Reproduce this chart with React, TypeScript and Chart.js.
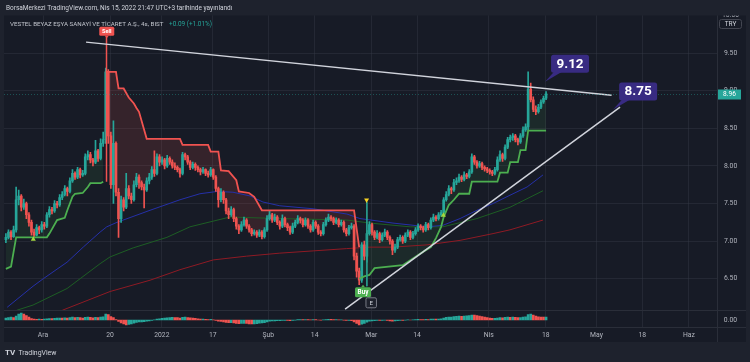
import { useEffect, useRef } from 'react';
import { Chart, registerables } from 'chart.js';

Chart.register(...registerables);

// ---------------- data (bar index j = one 4h bar) ----------------
// [open, high, low, close]
const OHLC: number[][] = [
  [7.02,7.10,6.98,7.05],[7.05,7.15,7.03,7.12],[7.12,7.14,7.02,7.06],[7.06,7.20,7.05,7.15],[7.15,7.72,7.12,7.55],
  [7.55,7.68,7.48,7.60],[7.60,7.62,7.40,7.45],[7.45,7.56,7.42,7.50],[7.50,7.52,7.30,7.35],[7.35,7.38,7.20,7.25],
  [7.25,7.28,7.08,7.12],[7.12,7.16,7.06,7.08],[7.08,7.22,7.07,7.18],[7.18,7.20,7.10,7.15],[7.15,7.26,7.12,7.22],
  [7.22,7.25,7.16,7.20],[7.20,7.38,7.18,7.35],[7.35,7.46,7.32,7.42],[7.42,7.45,7.36,7.40],[7.40,7.54,7.38,7.50],
  [7.50,7.53,7.44,7.48],[7.48,7.62,7.46,7.58],[7.58,7.66,7.55,7.62],[7.62,7.74,7.60,7.70],[7.70,7.72,7.60,7.66],
  [7.66,7.84,7.64,7.80],[7.80,7.95,7.78,7.90],[7.90,7.92,7.82,7.85],[7.85,7.98,7.83,7.95],[7.95,7.97,7.84,7.88],
  [7.88,7.94,7.86,7.90],[7.90,8.16,7.88,8.12],[8.12,8.20,8.08,8.15],[8.15,8.18,8.04,8.08],[8.08,8.10,8.00,8.05],
  [8.05,8.34,8.03,8.20],[8.20,8.22,8.06,8.10],[8.10,8.36,8.08,8.30],[8.30,8.45,8.26,8.35],[8.35,9.30,8.30,9.25],
  [9.25,9.28,8.30,8.40],[8.40,8.45,7.70,7.75],[7.75,8.60,7.50,8.30],[8.30,8.32,7.60,7.65],[7.65,7.70,7.05,7.30],
  [7.30,7.60,7.25,7.55],[7.55,7.58,7.40,7.45],[7.45,7.90,7.43,7.70],[7.70,7.74,7.56,7.60],[7.60,7.64,7.50,7.55],
  [7.55,7.80,7.53,7.75],[7.75,7.90,7.72,7.85],[7.85,7.88,7.70,7.78],[7.78,7.80,7.68,7.72],[7.72,7.76,7.44,7.68],
  [7.68,7.84,7.66,7.80],[7.80,7.90,7.76,7.85],[7.85,7.99,7.82,7.95],[7.95,8.20,7.86,7.90],[7.90,8.16,7.88,8.12],
  [8.12,8.15,8.00,8.05],[8.05,8.12,8.02,8.08],[8.08,8.10,7.96,8.00],[8.00,8.14,7.98,8.10],[8.10,8.12,8.02,8.05],
  [8.05,8.08,7.97,8.00],[8.00,8.04,7.95,7.98],[7.98,8.00,7.92,7.95],[7.95,7.97,7.85,7.90],[7.90,8.18,7.88,8.15],
  [8.15,8.17,8.08,8.12],[8.12,8.14,8.02,8.05],[8.05,8.07,7.95,7.98],[7.98,8.05,7.96,8.02],[8.02,8.04,7.94,7.98],
  [7.98,8.00,7.92,7.95],[7.95,7.97,7.88,7.92],[7.92,7.98,7.90,7.95],[7.95,7.96,7.87,7.90],[7.90,7.93,7.85,7.88],
  [7.88,7.98,7.86,7.95],[7.95,7.96,7.82,7.85],[7.85,7.87,7.66,7.70],[7.70,7.72,7.45,7.55],[7.55,7.70,7.52,7.65],
  [7.65,7.67,7.50,7.55],[7.55,7.57,7.36,7.40],[7.40,7.44,7.30,7.35],[7.35,7.46,7.33,7.42],[7.42,7.44,7.26,7.30],
  [7.30,7.32,7.16,7.20],[7.20,7.22,7.10,7.15],[7.15,7.26,7.13,7.22],[7.22,7.32,7.20,7.28],[7.28,7.30,7.17,7.20],
  [7.20,7.22,7.12,7.15],[7.15,7.17,7.07,7.10],[7.10,7.15,7.08,7.12],[7.12,7.14,7.05,7.08],[7.08,7.15,7.06,7.12],
  [7.12,7.14,7.03,7.06],[7.06,7.18,7.04,7.15],[7.15,7.34,7.13,7.30],[7.30,7.40,7.28,7.35],[7.35,7.37,7.25,7.28],
  [7.28,7.36,7.26,7.32],[7.32,7.34,7.22,7.25],[7.25,7.27,7.16,7.20],[7.20,7.35,7.18,7.30],[7.30,7.32,7.19,7.22],
  [7.22,7.24,7.14,7.18],[7.18,7.20,7.09,7.12],[7.12,7.24,7.10,7.20],[7.20,7.28,7.18,7.25],[7.25,7.34,7.23,7.30],
  [7.30,7.32,7.24,7.28],[7.28,7.30,7.19,7.22],[7.22,7.31,7.20,7.28],[7.28,7.30,7.17,7.20],[7.20,7.22,7.12,7.15],
  [7.15,7.28,7.13,7.25],[7.25,7.27,7.17,7.20],[7.20,7.22,7.09,7.12],[7.12,7.14,7.07,7.10],[7.10,7.25,7.08,7.22],
  [7.22,7.31,7.20,7.28],[7.28,7.36,7.26,7.32],[7.32,7.34,7.27,7.30],[7.30,7.32,7.22,7.25],[7.25,7.31,7.23,7.28],
  [7.28,7.30,7.19,7.22],[7.22,7.28,7.20,7.25],[7.25,7.27,7.12,7.15],[7.15,7.17,7.07,7.10],[7.10,7.21,7.08,7.18],
  [7.18,7.24,7.16,7.20],[7.20,7.22,6.75,6.80],[6.80,6.84,6.52,6.60],[6.60,6.64,6.42,6.48],[6.48,6.98,6.45,6.95],
  [6.95,7.00,6.75,6.80],[6.80,7.14,6.72,7.10],[7.10,7.26,7.08,7.22],[7.22,7.24,7.08,7.12],[7.12,7.14,7.02,7.05],
  [7.05,7.14,7.03,7.10],[7.10,7.12,6.98,7.02],[7.02,7.11,7.00,7.08],[7.08,7.16,7.06,7.12],[7.12,7.14,7.02,7.05],
  [7.05,7.07,6.96,7.00],[7.00,7.02,6.82,6.88],[6.88,6.96,6.85,6.92],[6.92,7.05,6.90,7.02],[7.02,7.08,7.00,7.05],
  [7.05,7.07,6.97,7.00],[7.00,7.11,6.98,7.08],[7.08,7.15,7.06,7.12],[7.12,7.14,7.02,7.05],[7.05,7.13,7.03,7.10],
  [7.10,7.18,7.08,7.15],[7.15,7.23,7.13,7.20],[7.20,7.22,7.15,7.18],[7.18,7.20,7.12,7.15],[7.15,7.25,7.13,7.22],
  [7.22,7.24,7.15,7.18],[7.18,7.31,7.16,7.28],[7.28,7.36,7.26,7.32],[7.32,7.34,7.27,7.30],[7.30,7.38,7.28,7.35],
  [7.35,7.41,7.33,7.38],[7.38,7.58,7.36,7.55],[7.55,7.66,7.53,7.62],[7.62,7.74,7.60,7.70],[7.70,7.72,7.63,7.68],
  [7.68,7.82,7.66,7.78],[7.78,7.84,7.75,7.80],[7.80,7.89,7.78,7.85],[7.85,7.87,7.79,7.82],[7.82,7.92,7.80,7.88],
  [7.88,7.90,7.83,7.86],[7.86,7.95,7.84,7.92],[7.92,8.16,7.90,8.12],[8.12,8.14,8.02,8.05],[8.05,8.07,7.97,8.00],
  [8.00,8.06,7.98,8.03],[8.03,8.05,7.95,7.98],[7.98,8.00,7.93,7.96],[7.96,7.98,7.91,7.94],[7.94,7.96,7.89,7.92],
  [7.92,7.94,7.87,7.90],[7.90,7.98,7.88,7.95],[7.95,8.12,7.93,8.08],[8.08,8.20,8.06,8.15],[8.15,8.17,8.06,8.10],
  [8.10,8.28,8.08,8.25],[8.25,8.38,8.23,8.35],[8.35,8.41,8.32,8.38],[8.38,8.43,8.34,8.40],[8.40,8.42,8.32,8.35],
  [8.35,8.37,8.28,8.32],[8.32,8.43,8.30,8.40],[8.40,8.52,8.38,8.48],[8.48,8.56,8.46,8.52],[8.52,9.25,8.48,9.02],
  [9.02,9.10,8.85,8.88],[8.88,8.92,8.72,8.75],[8.75,8.80,8.68,8.72],[8.72,8.82,8.70,8.78],[8.78,8.88,8.76,8.85],
  [8.85,8.93,8.83,8.90],[8.90,8.99,8.88,8.96],
];

const MACD_HIST: number[] = [
  0.020,0.025,0.030,0.025,0.040,0.060,0.070,0.060,0.045,0.030,
  0.015,0.008,0.006,0.008,0.007,0.010,0.012,0.015,0.013,0.016,
  0.018,0.020,0.018,0.022,0.020,0.024,0.028,0.025,0.027,0.023,
  0.020,0.026,0.030,0.026,0.022,0.026,0.024,0.028,0.032,0.060,
  0.055,0.035,0.025,0.005,-0.015,-0.030,-0.040,-0.050,-0.045,-0.040,
  -0.032,-0.025,-0.020,-0.018,-0.016,-0.012,-0.008,-0.004,0.002,0.008,
  0.012,0.016,0.018,0.022,0.024,0.026,0.025,0.024,0.020,0.026,
  0.028,0.025,0.022,0.020,0.016,0.012,0.010,0.010,0.007,0.005,
  0.006,0.002,-0.005,-0.012,-0.014,-0.018,-0.023,-0.026,-0.026,-0.030,
  -0.034,-0.036,-0.035,-0.033,-0.035,-0.038,-0.040,-0.038,-0.036,-0.032,
  -0.030,-0.026,-0.018,-0.012,-0.010,-0.008,-0.006,-0.006,-0.003,-0.003,
  -0.004,-0.006,-0.004,-0.001,0.003,0.004,0.003,0.005,0.004,0.002,
  0.004,0.003,0.000,-0.002,0.002,0.005,0.007,0.006,0.004,0.004,
  0.002,0.002,-0.002,-0.005,-0.004,-0.006,-0.020,-0.035,-0.050,-0.042,
  -0.035,-0.022,-0.012,-0.008,-0.006,-0.003,-0.004,-0.004,-0.002,-0.005,
  -0.008,-0.012,-0.010,-0.006,-0.004,-0.005,-0.002,0.001,0.000,0.002,
  0.004,0.006,0.005,0.004,0.006,0.005,0.008,0.010,0.009,0.010,
  0.012,0.020,0.026,0.030,0.030,0.034,0.036,0.038,0.037,0.040,
  0.042,0.044,0.050,0.048,0.044,0.040,0.034,0.028,0.023,0.019,
  0.016,0.016,0.020,0.024,0.022,0.026,0.028,0.027,0.029,0.026,
  0.023,0.025,0.029,0.032,0.055,0.058,0.048,0.038,0.032,0.030,
  0.029,0.030,
];

// Supertrend breakpoints [bar, price]
const ST_UP_1: number[][] = [[0,6.63],[2,6.66],[4,7.05],[16,7.05],[17,7.10],[20,7.28],[23,7.31],[24,7.41],[26,7.59],[27,7.63],[30,7.64],[32,7.72],[33,7.77],[37,7.77],[38,7.79]];
const ST_DOWN: number[][] = [[39,9.25],[43,9.25],[44,9.03],[46,9.03],[48,8.91],[50,8.83],[51,8.77],[52,8.72],[55,8.36],[68,8.36],[69,8.28],[79,8.28],[80,8.19],[83,8.19],[84,7.94],[87,7.93],[90,7.81],[91,7.66],[95,7.64],[97,7.59],[100,7.41],[136,7.41],[138,6.92]];
const ST_UP_2: number[][] = [[138,6.50],[140,6.53],[142,6.55],[144,6.64],[155,6.68],[159,6.77],[164,6.88],[166,6.92],[168,7.04],[170,7.19],[171,7.32],[173,7.48],[175,7.55],[177,7.63],[181,7.63],[182,7.79],[192,7.79],[193,7.91],[196,7.91],[197,8.05],[200,8.05],[201,8.21],[203,8.21],[204,8.47],[211,8.47]];

// Moving averages [bar, price]
const MA_BLUE: number[][] = [[0.5,6.12],[10.6,6.40],[14.6,6.50],[23.9,6.72],[30.2,6.92],[36.8,7.12],[39.4,7.19],[43.4,7.25],[56.3,7.41],[68,7.55],[75.8,7.63],[82.5,7.66],[88.7,7.65],[95.4,7.60],[100.4,7.52],[107,7.47],[120,7.43],[133.2,7.36],[138.3,7.30],[151.2,7.24],[164.5,7.19],[170.7,7.21],[177.4,7.30],[184,7.41],[190.3,7.50],[196.9,7.61],[203.6,7.72],[209.8,7.88]];
const MA_GREEN: number[][] = [[4.2,6.08],[10.6,6.15],[23.9,6.37],[36.8,6.70],[40.7,6.79],[49.7,6.91],[62.9,7.05],[71.9,7.19],[87.5,7.32],[107,7.30],[133.2,7.28],[142.2,7.24],[157.9,7.19],[170.7,7.19],[184,7.30],[196.9,7.45],[209.8,7.67]];
const MA_RED: number[][] = [[22,6.08],[40.7,6.33],[56.3,6.48],[68,6.62],[81,6.75],[94,6.80],[107,6.84],[120,6.87],[133,6.90],[142,6.92],[151,6.92],[164.5,6.95],[177.4,7.01],[190.3,7.10],[196.9,7.15],[209.8,7.28]];

// Drawn trend lines and signal lines
const TREND_UPPER: number[][] = [[31.3,9.646],[236.6,8.94]];
const TREND_LOWER: number[][] = [[132.5,6.096],[239.9,8.782]];
const SELL_LINE: number[][] = [[39.3,9.72],[39.3,7.79]];
const SIGNAL_LINE: number[][] = [[141,7.52],[141,6.40]];

// Annotations
const SELL_SIGNAL = [39.4, 9.79];
const BUY_SIGNAL = [139.5, 6.32];
const E_MARK = [142.7, 6.18];
const UP_TRIANGLES: number[][] = [[10.7,7.03],[170.9,7.35]];
const DOWN_TRIANGLE = [140.9, 7.54];
const CALLOUTS = [
  { j: 210.6, p: 9.12, text: '9.12' },
  { j: 237.2, p: 8.75, text: '8.75' },
];
const LAST_PRICE = 8.96;

// Axes
const PRICE_TICKS = [6.5, 7.0, 7.5, 8.0, 8.5, 9.0, 9.5];
const TIME_TICKS = [14.5, 40.7, 60.9, 80.8, 102.5, 120.6, 142.7, 160.6, 188.6, 210.9, 230.7, 248.6, 266.8];
const TIME_LABELS = ['Ara', '20', '2022', '17', 'Şub', '14', 'Mar', '14', 'Nis', '18', 'May', '18', 'Haz'];
const PANE_MIN = 6.082;

// ---------------- styles ----------------
const OUTER_BG = '#1e222d';
const PANE_BG = '#171b26';
const SEP = '#2a2e39';
const GRID = 'rgba(54,58,70,0.45)';
const AXIS_TEXT = '#b2b5be';
const UP = '#26a69a';
const DOWN = '#ef5350';
const ST_GREEN = '#4caf50';
const ST_RED = '#f05350';
const CALLOUT_BG = '#382b82';

function rr(ctx: CanvasRenderingContext2D, x: number, y: number, w: number, h: number, r: number) {
  ctx.beginPath();
  ctx.moveTo(x + r, y);
  ctx.arcTo(x + w, y, x + w, y + h, r);
  ctx.arcTo(x + w, y + h, x, y + h, r);
  ctx.arcTo(x, y + h, x, y, r);
  ctx.arcTo(x, y, x + w, y, r);
  ctx.closePath();
}

function fitText(ctx: CanvasRenderingContext2D, text: string, x: number, y: number, width: number, weight: string, color: string) {
  ctx.font = `${weight} 10px Roboto`;
  const w = ctx.measureText(text).width;
  const size = (10 * width) / w;
  ctx.font = `${weight} ${size}px Roboto`;
  ctx.fillStyle = color;
  ctx.textAlign = 'left';
  ctx.textBaseline = 'middle';
  ctx.fillText(text, x, y);
}

const bgPlugin = {
  id: 'bgPlugin',
  beforeDraw(chart: any) {
    const ctx = chart.ctx as CanvasRenderingContext2D;
    ctx.save();
    ctx.fillStyle = OUTER_BG;
    ctx.fillRect(0, 0, chart.width, chart.height);
    ctx.fillStyle = PANE_BG;
    ctx.fillRect(4, 15.5, 742, 326.5);
    ctx.restore();
  },
};

const overlayPlugin = {
  id: 'overlayPlugin',
  afterDraw(chart: any) {
    const ctx = chart.ctx as CanvasRenderingContext2D;
    const ca = chart.chartArea;
    const xs = chart.scales.x;
    const ys = chart.scales.y;
    const X = (v: number) => xs.getPixelForValue(v);
    const Y = (v: number) => ys.getPixelForValue(v);
    ctx.save();

    const hline = (x1: number, x2: number, y: number) => { ctx.beginPath(); ctx.moveTo(x1, y); ctx.lineTo(x2, y); ctx.stroke(); };
    const vline = (x: number, y1: number, y2: number) => { ctx.beginPath(); ctx.moveTo(x, y1); ctx.lineTo(x, y2); ctx.stroke(); };

    // pane separators
    ctx.strokeStyle = SEP;
    ctx.lineWidth = 1;
    hline(4, 746, Math.round(Y(PANE_MIN)) + 0.5);
    hline(4, 746, Math.round(ca.bottom) + 0.5);
    vline(Math.round(ca.right) + 0.5, 15.5, 342);

    // last price dotted line
    const ly = Math.round(Y(LAST_PRICE)) + 0.5;
    ctx.setLineDash([1, 2]);
    ctx.strokeStyle = 'rgba(38,166,154,0.4)';
    hline(ca.left, ca.right, ly);
    ctx.setLineDash([]);

    // header + legend
    fitText(ctx, 'BorsaMerkezi TradingView.com, Nis 15, 2022 21:47 UTC+3 tarihinde yayınlandı', 6, 8, 227, '400', '#d1d4dc');
    fitText(ctx, 'VESTEL BEYAZ EŞYA SANAYİ VE TİCARET A.Ş., 4s, BIST', 10, 24, 154, '400', '#c3c6ce');
    fitText(ctx, '+0.09 (+1.01%)', 169, 24, 43, '400', UP);

    // price axis extras
    ctx.save();
    ctx.beginPath();
    ctx.rect(ca.right + 1, 15.5, 30, 20);
    ctx.clip();
    ctx.fillStyle = AXIS_TEXT;
    ctx.font = '6.8px Roboto';
    ctx.textAlign = 'center';
    ctx.textBaseline = 'middle';
    ctx.fillText('10.00', 730.5, Y(10.0) - 0.5);
    ctx.restore();

    ctx.fillStyle = PANE_BG;
    rr(ctx, 719.5, 19.5, 22, 9, 2);
    ctx.fill();
    ctx.strokeStyle = '#434651';
    ctx.stroke();
    ctx.fillStyle = '#d1d4dc';
    ctx.font = '6.5px Roboto';
    ctx.textAlign = 'center';
    ctx.textBaseline = 'middle';
    ctx.fillText('TRY', 730.5, 24.3);

    // last price tag
    ctx.fillStyle = UP;
    ctx.fillRect(718, ly - 5, 23, 10);
    ctx.fillStyle = '#ffffff';
    ctx.font = '6.6px Roboto';
    ctx.fillText(LAST_PRICE.toFixed(2), 729.5, ly + 0.3);

    // MACD zero label
    ctx.fillStyle = AXIS_TEXT;
    ctx.font = '6.8px Roboto';
    const ym = chart.scales.yM;
    ctx.fillText('0.00', 730.5, ym.getPixelForValue(0));

    // triangles
    ctx.fillStyle = '#a5d63f';
    for (const [j, p] of UP_TRIANGLES) {
      const x = X(j), y = Y(p);
      ctx.beginPath(); ctx.moveTo(x, y - 2.5); ctx.lineTo(x + 2.5, y + 2); ctx.lineTo(x - 2.5, y + 2); ctx.closePath(); ctx.fill();
    }
    ctx.fillStyle = '#f9d423';
    {
      const x = X(DOWN_TRIANGLE[0]), y = Y(DOWN_TRIANGLE[1]);
      ctx.beginPath(); ctx.moveTo(x - 2.5, y - 2); ctx.lineTo(x + 2.5, y - 2); ctx.lineTo(x, y + 2.5); ctx.closePath(); ctx.fill();
    }

    // Sell label
    {
      const x = X(SELL_SIGNAL[0]), y = Y(SELL_SIGNAL[1]);
      ctx.fillStyle = ST_RED;
      rr(ctx, x - 7.5, y - 4.5, 15, 9, 1.5); ctx.fill();
      ctx.beginPath(); ctx.moveTo(x - 2, y + 4.4); ctx.lineTo(x + 2, y + 4.4); ctx.lineTo(x, y + 7); ctx.closePath(); ctx.fill();
      ctx.fillStyle = '#ffffff';
      ctx.font = 'bold 5.6px Roboto';
      ctx.textAlign = 'center'; ctx.textBaseline = 'middle';
      ctx.fillText('Sell', x, y + 0.4);
    }
    // Buy label
    {
      const x = X(BUY_SIGNAL[0]), y = Y(BUY_SIGNAL[1]);
      ctx.fillStyle = ST_GREEN;
      rr(ctx, x - 8, y - 5, 16, 10, 1.5); ctx.fill();
      ctx.beginPath(); ctx.moveTo(x - 2, y - 4.9); ctx.lineTo(x + 2, y - 4.9); ctx.lineTo(x, y - 7.5); ctx.closePath(); ctx.fill();
      ctx.fillStyle = '#ffffff';
      ctx.font = 'bold 6.4px Roboto';
      ctx.textAlign = 'center'; ctx.textBaseline = 'middle';
      ctx.fillText('Buy', x, y + 0.5);
    }
    // E mark
    {
      const x = X(E_MARK[0]), y = Y(E_MARK[1]);
      ctx.fillStyle = '#1e222d';
      rr(ctx, x - 5.25, y - 5, 10.5, 10, 1.5); ctx.fill();
      ctx.strokeStyle = '#787b86'; ctx.lineWidth = 1; ctx.stroke();
      ctx.fillStyle = '#d1d4dc';
      ctx.font = '6.2px Roboto';
      ctx.textAlign = 'center'; ctx.textBaseline = 'middle';
      ctx.fillText('E', x, y + 0.4);
    }

    // callouts
    for (const c of CALLOUTS) {
      const ax = X(c.j), ay = Y(c.p);
      const bw = 38, bh = 18;
      const bx = ax + 6, by = ay - 9 - bh;
      ctx.fillStyle = CALLOUT_BG;
      ctx.beginPath();
      ctx.moveTo(ax, ay);
      ctx.lineTo(bx + 3, by + bh - 1);
      ctx.lineTo(bx + 11, by + bh - 1);
      ctx.closePath();
      ctx.fill();
      rr(ctx, bx, by, bw, bh, 2.5);
      ctx.fill();
      ctx.fillStyle = '#ffffff';
      ctx.font = 'bold 13.5px Roboto';
      ctx.textAlign = 'center'; ctx.textBaseline = 'middle';
      ctx.fillText(c.text, bx + bw / 2, by + bh / 2 + 0.5);
    }

    // TradingView logo
    ctx.fillStyle = '#d1d4dc';
    ctx.font = 'bold 8px Roboto';
    ctx.textAlign = 'left'; ctx.textBaseline = 'middle';
    ctx.fillText('TV', 5, 353);
    fitText(ctx, 'TradingView', 18.5, 353, 38, '400', '#d1d4dc');

    ctx.restore();
  },
};

export default function App() {
  const ref = useRef<HTMLCanvasElement>(null);

  useEffect(() => {
    document.body.style.margin = '0';
    const pts = (arr: number[][]) => arr.map(([x, y]) => ({ x, y }));
    const mid = OHLC.map((c, j) => ({ x: j, y: (c[0] + c[3]) / 2 }));
    const candleColors = OHLC.map((c) => (c[3] >= c[0] ? UP : DOWN));
    const macdColors = MACD_HIST.map((v, i) => (i === 0 || v >= MACD_HIST[i - 1] ? UP : DOWN));

    const midStyle = { type: 'line', borderColor: 'rgba(0,0,0,0)', borderWidth: 0, pointRadius: 0, fill: false, yAxisID: 'y', order: 20 };
    const lineStyle = (color: string, width: number, order: number) => ({
      type: 'line', borderColor: color, borderWidth: width, pointRadius: 0, fill: false, tension: 0, yAxisID: 'y', order,
    });

    const datasets: any[] = [
      { ...midStyle, data: mid.slice(0, 39) },            // 0
      { ...midStyle, data: mid.slice(39, 139) },          // 1
      { ...midStyle, data: mid.slice(138) },              // 2
      { ...lineStyle(ST_GREEN, 1.8, 2), data: pts(ST_UP_1), fill: { target: 0 }, backgroundColor: 'rgba(76,175,80,0.10)' },
      { ...lineStyle(ST_RED, 1.8, 2), data: pts(ST_DOWN), fill: { target: 1 }, backgroundColor: 'rgba(240,83,80,0.14)' },
      { ...lineStyle(ST_GREEN, 1.8, 2), data: pts(ST_UP_2), fill: { target: 2 }, backgroundColor: 'rgba(76,175,80,0.10)' },
      { ...lineStyle('#2530a8', 1, 7), data: pts(MA_BLUE) },
      { ...lineStyle('#1d5e24', 1, 7), data: pts(MA_GREEN) },
      { ...lineStyle('#8e1a24', 1, 7), data: pts(MA_RED) },
      { ...lineStyle(ST_RED, 1.5, 1), data: pts(SELL_LINE) },
      { ...lineStyle('#2a9d8f', 1, 1), data: pts(SIGNAL_LINE) },
      { ...lineStyle('#d1d4dc', 1.5, 0), data: pts(TREND_UPPER) },
      { ...lineStyle('#d1d4dc', 1.5, 0), data: pts(TREND_LOWER) },
      {
        type: 'bar', data: OHLC.map((c, j) => ({ x: j, y: [c[2], c[1]] })), backgroundColor: candleColors,
        barThickness: 1, grouped: false, borderWidth: 0, yAxisID: 'y', order: 5,
      },
      {
        type: 'bar', data: OHLC.map((c, j) => ({ x: j, y: [c[0], c[3]] })), backgroundColor: candleColors,
        barThickness: 2, minBarLength: 1, grouped: false, borderWidth: 0, yAxisID: 'y', order: 4,
      },
      {
        type: 'bar', data: MACD_HIST.map((v, j) => ({ x: j, y: v })), backgroundColor: macdColors,
        barThickness: 2, grouped: false, borderWidth: 0, yAxisID: 'yM', order: 9,
      },
    ];

    const chart = new Chart(ref.current as HTMLCanvasElement, {
      type: 'bar',
      data: { datasets },
      options: {
        animation: false,
        responsive: false,
        maintainAspectRatio: false,
        events: [],
        layout: { padding: { left: 4, right: 3, top: 15.5, bottom: 20 } },
        plugins: {
          legend: { display: false },
          tooltip: { enabled: false },
          filler: { drawTime: 'beforeDatasetsDraw' },
        },
        scales: {
          x: {
            type: 'linear',
            min: -0.742,
            max: 277.77,
            offset: false,
            afterBuildTicks: (s: any) => { s.ticks = TIME_TICKS.map((v) => ({ value: v })); },
            afterFit: (s: any) => { s.height = 15; },
            ticks: {
              autoSkip: false,
              maxRotation: 0,
              padding: 4,
              color: AXIS_TEXT,
              font: { family: 'Roboto', size: 6.8 },
              callback: (_v: any, i: number) => TIME_LABELS[i],
            },
            grid: { color: GRID, drawTicks: false, offset: false },
            border: { display: false },
          },
          y: {
            type: 'linear',
            position: 'right',
            min: 5.858,
            max: 10.0,
            afterBuildTicks: (s: any) => { s.ticks = PRICE_TICKS.map((v) => ({ value: v })); },
            afterFit: (s: any) => { s.width = 30; },
            ticks: {
              padding: 7,
              color: AXIS_TEXT,
              font: { family: 'Roboto', size: 6.8 },
              callback: (v: any) => Number(v).toFixed(2),
            },
            grid: { color: GRID, drawTicks: false },
            border: { display: false },
          },
          yM: {
            type: 'linear',
            display: false,
            min: -0.07,
            max: 3.045,
          },
        },
      } as any,
      plugins: [bgPlugin, overlayPlugin],
    } as any);

    return () => chart.destroy();
  }, []);

  return (
    <div style={{ position: 'fixed', left: 0, top: 0, width: 750, height: 362 }}>
      <canvas ref={ref} width={750} height={362} style={{ display: 'block', width: 750, height: 362 }} />
    </div>
  );
}
